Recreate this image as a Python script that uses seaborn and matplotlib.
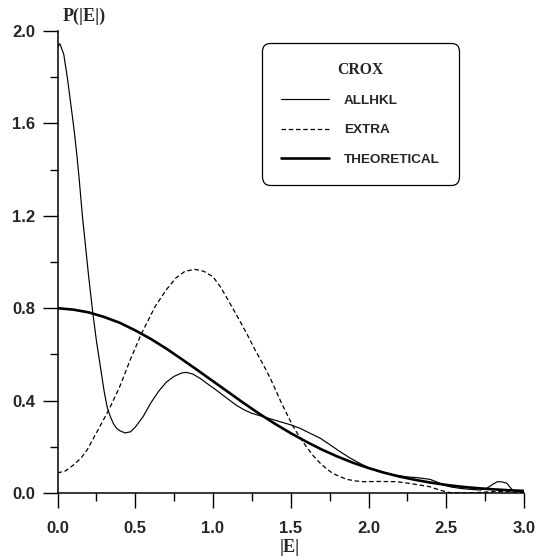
import numpy as np
import pandas as pd
import matplotlib
matplotlib.use("Agg")
import matplotlib.pyplot as plt
import seaborn as sns
from matplotlib.lines import Line2D
from matplotlib.ticker import MultipleLocator

# ---- data ----
theo_x = [0.0, 0.1, 0.2, 0.3, 0.4, 0.5, 0.6, 0.7, 0.8, 0.9, 1.0, 1.1, 1.2, 1.3, 1.4, 1.5,
          1.6, 1.7, 1.8, 1.9, 2.0, 2.1, 2.2, 2.3, 2.4, 2.5, 2.6, 2.7, 2.8, 2.9, 3.0]
theo_y = [0.800, 0.794, 0.782, 0.762, 0.737, 0.704, 0.667, 0.625, 0.579, 0.532, 0.484,
          0.436, 0.388, 0.342, 0.299, 0.259, 0.222, 0.188, 0.158, 0.131, 0.108, 0.088,
          0.071, 0.057, 0.045, 0.035, 0.027, 0.021, 0.016, 0.012, 0.009]

allhkl_x = [0.0, 0.015, 0.04, 0.065, 0.09, 0.107, 0.125, 0.14, 0.16, 0.18, 0.20, 0.227,
            0.25, 0.275, 0.30, 0.32, 0.34, 0.36, 0.38, 0.40, 0.434, 0.47, 0.50, 0.55,
            0.60, 0.65, 0.70, 0.75, 0.80, 0.83, 0.87, 0.92, 0.97, 1.02, 1.10, 1.15,
            1.20, 1.25, 1.30, 1.35, 1.40, 1.45, 1.50, 1.56, 1.62, 1.69, 1.75, 1.817,
            1.88, 1.945, 2.00, 2.07, 2.15, 2.245, 2.32, 2.395, 2.44, 2.48, 2.53, 2.59,
            2.65, 2.72, 2.76, 2.80, 2.83, 2.86, 2.89, 2.91, 2.93, 2.96, 3.00]
allhkl_y = [1.93, 1.945, 1.90, 1.79, 1.66, 1.57, 1.46, 1.355, 1.20, 1.07, 0.94, 0.78,
            0.66, 0.55, 0.44, 0.37, 0.33, 0.30, 0.28, 0.27, 0.26, 0.265, 0.285, 0.33,
            0.39, 0.44, 0.48, 0.505, 0.52, 0.522, 0.515, 0.495, 0.47, 0.446, 0.405, 0.38,
            0.36, 0.345, 0.335, 0.325, 0.315, 0.305, 0.295, 0.28, 0.26, 0.237, 0.21, 0.179,
            0.152, 0.128, 0.11, 0.092, 0.08, 0.07, 0.066, 0.059, 0.048, 0.035, 0.026, 0.02,
            0.016, 0.013, 0.02, 0.038, 0.049, 0.048, 0.042, 0.025, 0.01, 0.008, 0.008]

extra_x = [0.0, 0.05, 0.10, 0.15, 0.19, 0.25, 0.33, 0.40, 0.47, 0.54, 0.63, 0.70, 0.76,
           0.82, 0.885, 0.94, 1.00, 1.05, 1.11, 1.16, 1.217, 1.27, 1.32, 1.366, 1.40,
           1.44, 1.48, 1.516, 1.55, 1.59, 1.64, 1.688, 1.73, 1.77, 1.82, 1.86, 1.92,
           1.966, 2.07, 2.18, 2.28, 2.395, 2.46, 2.52, 2.60, 2.70, 2.80, 2.90, 3.00]
extra_y = [0.087, 0.095, 0.12, 0.15, 0.186, 0.26, 0.36, 0.46, 0.58, 0.69, 0.81, 0.88, 0.93,
           0.96, 0.968, 0.96, 0.936, 0.89, 0.82, 0.76, 0.69, 0.62, 0.56, 0.50, 0.45,
           0.39, 0.335, 0.287, 0.25, 0.21, 0.165, 0.13, 0.105, 0.085, 0.07, 0.059, 0.052,
           0.049, 0.05, 0.049, 0.04, 0.027, 0.012, 0.002, 0.0, 0.002, 0.006, 0.006, 0.002]

x_ticks = [0.0, 0.5, 1.0, 1.5, 2.0, 2.5, 3.0]
y_ticks = [0.0, 0.4, 0.8, 1.2, 1.6, 2.0]
x_label = "|E|"
y_label = "P(|E|)"
legend_title = "CROX"
series_names = ["ALLHKL", "EXTRA", "THEORETICAL"]

# ---- plotting ----
sns.set_style("ticks")
plt.rcParams['font.family'] = ['Liberation Sans', 'DejaVu Sans']

fig = plt.figure(figsize=(5.36, 5.58), dpi=100)
ax = fig.add_axes([57.5 / 536, 65 / 558, 466.5 / 536, 462 / 558])

sns.lineplot(x=allhkl_x, y=allhkl_y, ax=ax, color="black", linewidth=0.85,
             sort=False, estimator=None)
sns.lineplot(x=extra_x, y=extra_y, ax=ax, color="black", linewidth=0.9,
             linestyle=(0, (3.6, 2.2)), sort=False, estimator=None)
sns.lineplot(x=theo_x, y=theo_y, ax=ax, color="black", linewidth=1.9,
             sort=False, estimator=None)

ax.set_xlim(0, 3.0)
ax.set_ylim(0, 2.0)
ax.set_xticks(x_ticks)
ax.set_yticks(y_ticks)
ax.set_xticklabels([f"{v:.1f}" for v in x_ticks], fontweight="bold", fontsize=12)
ax.set_yticklabels([f"{v:.1f}" for v in y_ticks], fontweight="bold", fontsize=12)
ax.xaxis.set_minor_locator(MultipleLocator(0.25))
ax.yaxis.set_minor_locator(MultipleLocator(0.2))
ax.tick_params(which="major", direction="out", length=11, width=1.0, color="black")
ax.tick_params(which="minor", direction="out", length=5.5, width=1.0, color="black")
ax.tick_params(axis="x", which="major", pad=9)
ax.tick_params(axis="y", which="major", pad=5)

for s in ["top", "right"]:
    ax.spines[s].set_visible(False)
for s in ["left", "bottom"]:
    ax.spines[s].set_linewidth(1.1)
    ax.spines[s].set_color("black")

serif = ['Liberation Serif', 'DejaVu Serif']
ax.set_xlabel(x_label, fontfamily=serif, fontweight="bold", fontsize=13, va="center")
ax.xaxis.set_label_coords(0.498, -0.117)
ax.set_ylabel(y_label, fontfamily=serif, fontweight="bold", fontsize=13,
              rotation=0, ha="left", va="center")
ax.yaxis.set_label_coords(0.012, 1.032)

handles = [
    Line2D([], [], color="black", linewidth=0.85),
    Line2D([], [], color="black", linewidth=0.9, linestyle=(0, (3.6, 2.2))),
    Line2D([], [], color="black", linewidth=1.9),
]
leg = ax.legend(handles, series_names, loc="upper left",
                bbox_to_anchor=(0.438, 0.974), frameon=True, fancybox=True,
                prop={"weight": "bold", "size": 9.7},
                title=legend_title,
                title_fontproperties={"family": serif, "weight": "bold", "size": 11.3},
                handlelength=3.6, handletextpad=1.1, labelspacing=1.25,
                borderpad=1.4, borderaxespad=0.0, framealpha=1.0)
frame = leg.get_frame()
frame.set_edgecolor("black")
frame.set_linewidth(0.9)
frame.set_boxstyle("round,pad=0,rounding_size=0.6")

fig.savefig("out.png", dpi=100)
